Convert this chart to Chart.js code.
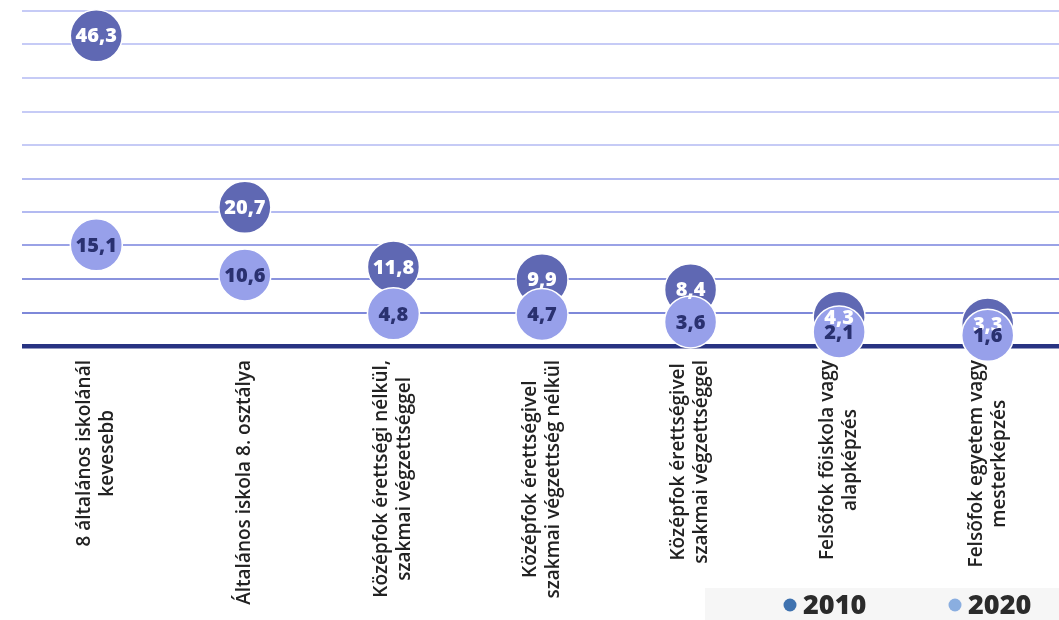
<!DOCTYPE html>
<html>
<head>
<meta charset="utf-8">
<script src="https://cdn.jsdelivr.net/npm/chart.js@4.4.1/dist/chart.umd.min.js"></script>
<style>
    html, body { margin: 0; padding: 0; background: #ffffff; overflow: hidden; }
    #chart-vegzettseg { display: block; }
</style>
</head>
<body>
<canvas id="chart-vegzettseg" width="1064" height="620"></canvas>
<script>
// kategoriak
var categories = [
    ['8 általános iskolánál', 'kevesebb'],
    ['Általános iskola 8. osztálya'],
    ['Középfok érettségi nélkül,', 'szakmai végzettséggel'],
    ['Középfok érettségivel', 'szakmai végzettség nélkül'],
    ['Középfok érettségivel', 'szakmai végzettséggel'],
    ['Felsõfok fõiskola vagy', 'alapképzés'],
    ['Felsõfok egyetem vagy', 'mesterképzés']
];

// ertekek (%)
var values2010 = [46.3, 20.7, 11.8, 9.9, 8.4, 4.3, 3.3];
var values2020 = [15.1, 10.6, 4.8, 4.7, 3.6, 2.1, 1.6];

var seriesNames = ['2010', '2020'];
var yTicks = [0, 5, 10, 15, 20, 25, 30, 35, 40, 45, 50];

var bubbleDark = '#5f68b3';
var bubbleLight = '#97a0ea';
var legendColors = ['#3f72af', '#8aaee0'];

function fmt(v) {
    return v.toFixed(1).replace('.', ',');
}

// gridline colour, darker near the base line
function gridColor(ctx) {
    var v = ctx.tick.value;
    if (v === 0) return '#283382';
    if (v <= 5) return '#7e88d9';
    if (v <= 10) return '#8a93dd';
    if (v <= 15) return '#9aa2e6';
    if (v <= 25) return '#b3baf1';
    return '#c6cbf6';
}

// value labels inside the bubbles
var bubbleLabels = {
    id: 'bubbleLabels',
    afterDatasetsDraw: function (chart) {
        var ctx = chart.ctx;
        ctx.save();
        ctx.font = '800 20px "Open Sans"';
        ctx.textAlign = 'center';
        ctx.textBaseline = 'middle';
        chart.data.datasets.forEach(function (ds, i) {
            var meta = chart.getDatasetMeta(i);
            ctx.fillStyle = i === 0 ? '#ffffff' : '#2a3170';
            meta.data.forEach(function (pt, j) {
                ctx.fillText(fmt(ds.data[j]), pt.x, pt.y + 1);
            });
        });
        ctx.restore();
    }
};

// rotated category labels, lines centred, block top near the axis
var categoryLabels = {
    id: 'categoryLabels',
    afterDraw: function (chart) {
        var ctx = chart.ctx;
        var xScale = chart.scales.x;
        var top = chart.chartArea.bottom + 14;
        var lineH = 23;
        ctx.save();
        ctx.font = '600 19px "Open Sans"';
        ctx.fillStyle = '#222222';
        ctx.textAlign = 'center';
        ctx.textBaseline = 'middle';
        categories.forEach(function (lines, i) {
            var maxW = 0;
            lines.forEach(function (l) {
                maxW = Math.max(maxW, ctx.measureText(l).width);
            });
            var cx = xScale.getPixelForValue(i);
            var cy = top + maxW / 2;
            var x0 = cx - (lines.length - 1) * lineH / 2;
            lines.forEach(function (l, k) {
                ctx.save();
                ctx.translate(x0 + k * lineH, cy);
                ctx.rotate(-Math.PI / 2);
                ctx.fillText(l, 0, 0);
                ctx.restore();
            });
        });
        ctx.restore();
    }
};

// legend in a grey box, bottom right
var legendBox = {
    id: 'legendBox',
    afterDraw: function (chart) {
        var ctx = chart.ctx;
        ctx.save();
        ctx.fillStyle = '#f6f6f6';
        ctx.fillRect(705, 588, chart.width - 705, chart.height - 588);
        ctx.font = '800 27px "Open Sans"';
        ctx.textBaseline = 'middle';
        ctx.textAlign = 'left';
        var xs = [790, 955];
        seriesNames.forEach(function (name, i) {
            ctx.fillStyle = legendColors[i];
            ctx.beginPath();
            ctx.arc(xs[i], 605, 6.5, 0, Math.PI * 2);
            ctx.fill();
            ctx.fillStyle = '#2b2b2b';
            ctx.fillText(name, xs[i] + 13, 606);
        });
        ctx.restore();
    }
};

var ctx = document.getElementById('chart-vegzettseg').getContext('2d');
var myChart = new Chart(ctx, {
    type: 'line',
    data: {
        labels: categories,
        datasets: [{
            label: seriesNames[0],
            data: values2010,
            showLine: false,
            backgroundColor: bubbleDark,
            borderColor: '#ffffff',
            borderWidth: 1.5,
            pointRadius: 26,
            pointHoverRadius: 26,
            order: 1,
            clip: false
        }, {
            label: seriesNames[1],
            data: values2020,
            showLine: false,
            backgroundColor: bubbleLight,
            borderColor: '#ffffff',
            borderWidth: 1.5,
            pointRadius: 26,
            pointHoverRadius: 26,
            order: 0,
            clip: false
        }]
    },
    options: {
        responsive: false,
        animation: false,
        layout: {
            autoPadding: false,
            padding: { top: 11, left: 22, right: 2, bottom: 0 }
        },
        scales: {
            x: {
                type: 'category',
                offset: true,
                grid: { display: false },
                border: { display: false },
                ticks: { display: false },
                afterFit: function (scale) {
                    scale.height = 274;
                }
            },
            y: {
                min: 0,
                max: 50,
                afterBuildTicks: function (scale) {
                    scale.ticks = yTicks.map(function (v) { return { value: v }; });
                },
                ticks: { display: false },
                border: { display: false },
                grid: {
                    color: gridColor,
                    lineWidth: function (c) { return c.tick.value === 0 ? 4.5 : 2; },
                    drawTicks: false
                }
            }
        },
        plugins: {
            tooltip: { enabled: false },
            legend: { display: false }
        }
    },
    plugins: [bubbleLabels, categoryLabels, legendBox]
});
</script>
</body>
</html>
